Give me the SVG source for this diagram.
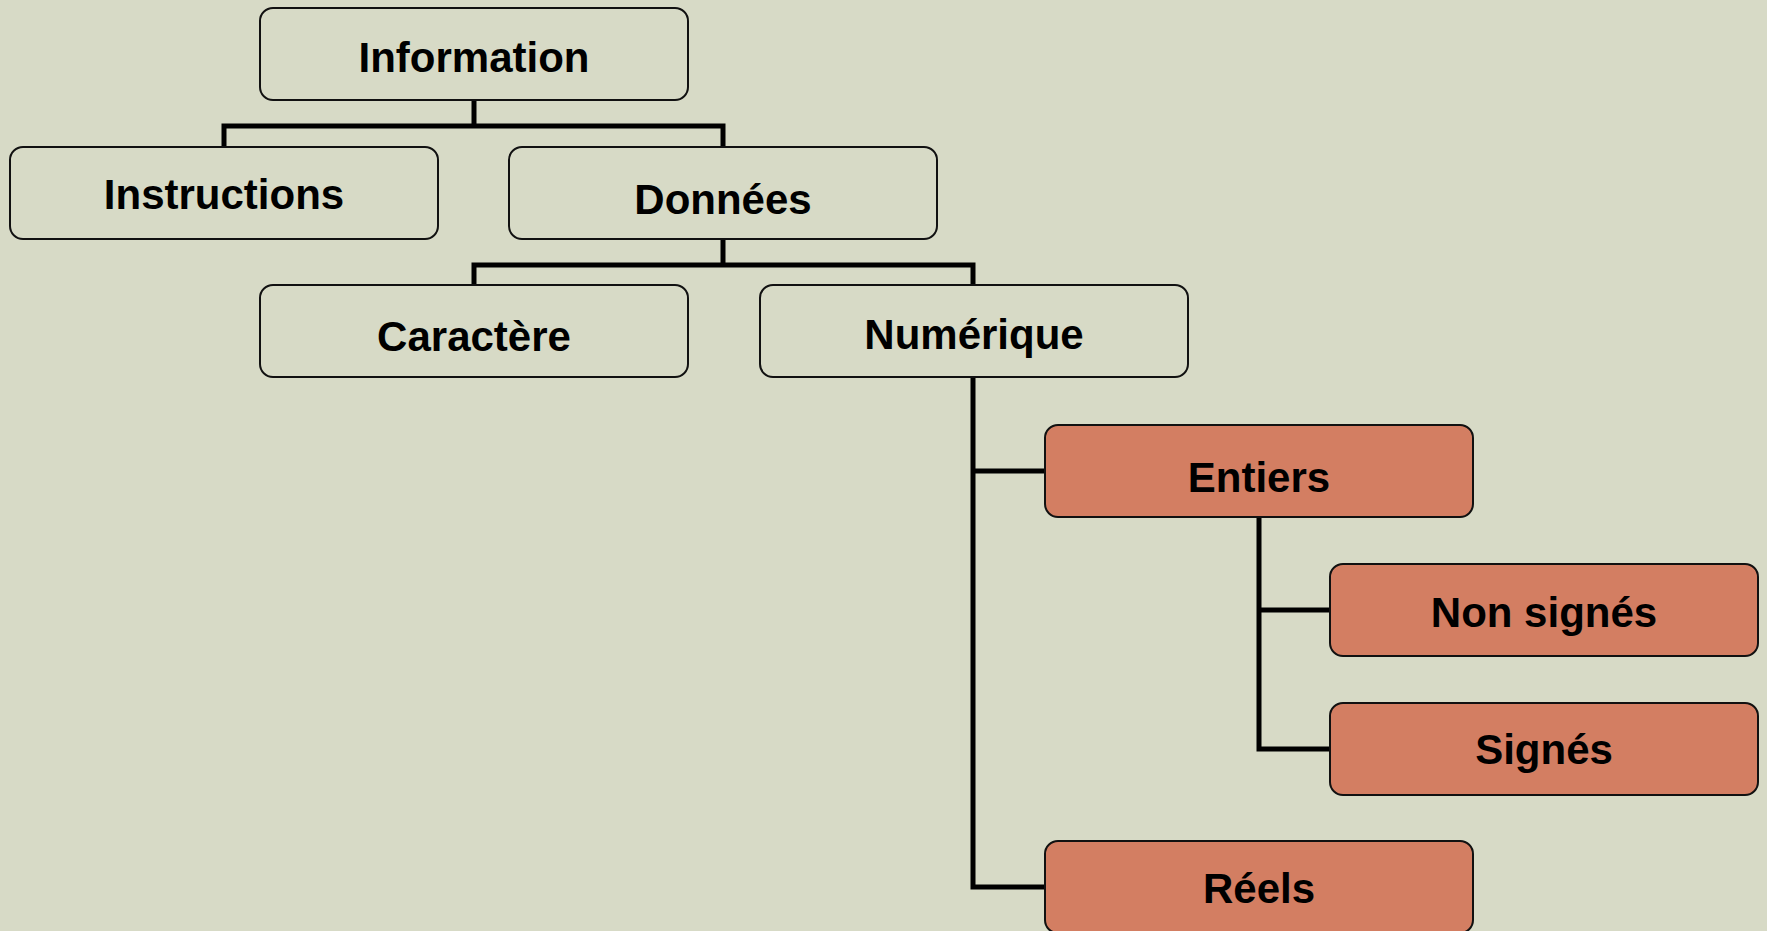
<svg xmlns="http://www.w3.org/2000/svg" width="1767" height="931" viewBox="0 0 1767 931">
<style>
.box{fill:#d7dac6;stroke:#111;stroke-width:2}
.hot{fill:#d37e62;stroke:#111;stroke-width:2}
.lbl{font-family:"Liberation Sans",Arial,sans-serif;font-weight:bold;font-size:42px;fill:#000;text-anchor:middle}
.conn{fill:none;stroke:#000;stroke-width:5;stroke-linejoin:miter;stroke-linecap:square}
</style>
<rect width="1767" height="931" fill="#d7dac6"/>
<g id="connectors">
<path class="conn" d="M474 101 V126 M224 146 V126 H723 V146"/>
<path class="conn" d="M723 240 V265 M474 285 V265 H973 V285"/>
<path class="conn" d="M973 378 V887 H1044 M973 471 H1044"/>
<path class="conn" d="M1259 517 V749 H1330 M1259 610 H1330"/>
</g>
<g id="n-information"><rect class="box" x="260" y="8" width="428" height="92" rx="13"/><text class="lbl" x="474" y="72">Information</text></g>
<g id="n-instructions"><rect class="box" x="10" y="147" width="428" height="92" rx="13"/><text class="lbl" x="224" y="209">Instructions</text></g>
<g id="n-donnees"><rect class="box" x="509" y="147" width="428" height="92" rx="13"/><text class="lbl" x="723" y="214">Données</text></g>
<g id="n-caractere"><rect class="box" x="260" y="285" width="428" height="92" rx="13"/><text class="lbl" x="474" y="351">Caractère</text></g>
<g id="n-numerique"><rect class="box" x="760" y="285" width="428" height="92" rx="13"/><text class="lbl" x="974" y="349">Numérique</text></g>
<g id="n-entiers"><rect class="hot" x="1045" y="425" width="428" height="92" rx="13"/><text class="lbl" x="1259" y="492">Entiers</text></g>
<g id="n-nonsignes"><rect class="hot" x="1330" y="564" width="428" height="92" rx="13"/><text class="lbl" x="1544" y="627">Non signés</text></g>
<g id="n-signes"><rect class="hot" x="1330" y="703" width="428" height="92" rx="13"/><text class="lbl" x="1544" y="764">Signés</text></g>
<g id="n-reels"><rect class="hot" x="1045" y="841" width="428" height="92" rx="13"/><text class="lbl" x="1259" y="903">Réels</text></g>
</svg>
